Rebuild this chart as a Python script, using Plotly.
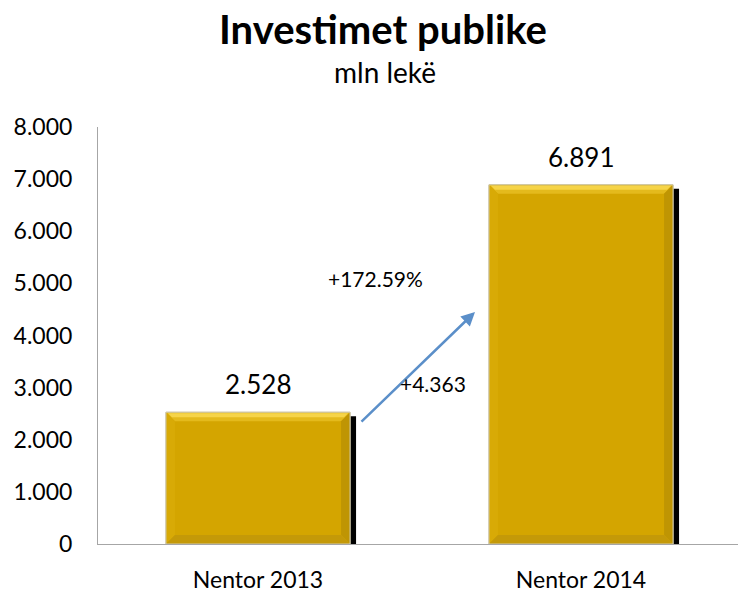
import plotly.graph_objects as go

categories = ["Nentor 2013", "Nentor 2014"]
values = [2528, 6891]
value_labels = ["2.528", "6.891"]
change_pct_label = "+172.59%"
change_abs_label = "+4.363"
y_ticks = [0, 1000, 2000, 3000, 4000, 5000, 6000, 7000, 8000]
y_tick_labels = ["0", "1.000", "2.000", "3.000", "4.000", "5.000", "6.000", "7.000", "8.000"]

FONT = "Lato, 'Open Sans', sans-serif"
W, H = 738, 592
ML, MR, MT, MB = 98, 0, 127, 48
PW, PH = W - ML - MR, H - MT - MB
YMAX = 8000
UNIT = 323.0                      # px per category
X0 = -(258 - ML) / UNIT           # left range so category 0 centres at px 258
XR = (X0, X0 + PW / UNIT)
px_x = 1 / UNIT
px_y = YMAX / PH


def px2x(p):
    return XR[0] + (p - ML) / UNIT


def px2y(p):
    return (H - MB - p) * px_y


def px2py(p):  # paper y from pixel top
    return (H - MB - p) / PH


def px2px(p):
    return (p - ML) / PW


BW = 0.57
xs = list(range(len(categories)))
GOLD = "#D4A500"

fig = go.Figure()

# shadow bars
fig.add_trace(go.Bar(
    x=xs, y=[v - 4 * px_y for v in values], width=BW,
    offset=-BW / 2 + 6 * px_x, marker=dict(color="black", line=dict(width=0)),
    hoverinfo="skip", showlegend=False))

# main bars
fig.add_trace(go.Bar(
    x=xs, y=values, width=BW, offset=-BW / 2,
    marker=dict(color=GOLD, line=dict(color="#C8C0A0", width=1)),
    showlegend=False))

shapes = []
bx = 9 * px_x
by = 9 * px_y
for x, v in zip(xs, values):
    x0, x1 = x - BW / 2, x + BW / 2
    # top bevel (light), two tones for gradient feel
    shapes.append(dict(type="path", xref="x", yref="y", line=dict(width=0), fillcolor="#E4BA1C",
                       path=f"M{x0},{v} L{x1},{v} L{x1-bx},{v-by} L{x0+bx},{v-by} Z"))
    shapes.append(dict(type="path", xref="x", yref="y", line=dict(width=0), fillcolor="#F6D448",
                       path=f"M{x0+2*px_x},{v-1*px_y} L{x1-2*px_x},{v-1*px_y} L{x1-6*px_x},{v-5*px_y} L{x0+6*px_x},{v-5*px_y} Z"))
    # left bevel
    shapes.append(dict(type="path", xref="x", yref="y", line=dict(width=0), fillcolor="#D8AA06",
                       path=f"M{x0},{v} L{x0+bx},{v-by} L{x0+bx},{by} L{x0},0 Z"))
    # right bevel (dark)
    shapes.append(dict(type="path", xref="x", yref="y", line=dict(width=0), fillcolor="#BF9503",
                       path=f"M{x1},{v} L{x1-bx},{v-by} L{x1-bx},{by} L{x1},0 Z"))
    # bottom bevel
    shapes.append(dict(type="path", xref="x", yref="y", line=dict(width=0), fillcolor="#C49908",
                       path=f"M{x0},0 L{x0+bx},{by} L{x1-bx},{by} L{x1},0 Z"))
    # outline
    shapes.append(dict(type="rect", xref="x", yref="y", x0=x0, x1=x1, y0=0, y1=v,
                       line=dict(color="#CFC9B0", width=1)))

annotations = []
for x, v, lab in zip(xs, values, value_labels):
    annotations.append(dict(x=x, y=v, xref="x", yref="y", text=lab, showarrow=False,
                            yanchor="middle", yshift=28,
                            font=dict(family=FONT, size=26, color="black")))

# change arrow
annotations.append(dict(x=px2x(475), y=px2y(312), ax=px2x(360), ay=px2y(423),
                        xref="x", yref="y", axref="x", ayref="y",
                        text="", showarrow=True, arrowhead=2, arrowsize=1.1, arrowwidth=2.5,
                        arrowcolor="#5B8FC9"))
annotations.append(dict(x=px2x(375), y=px2y(278), xref="x", yref="y", text=change_pct_label,
                        showarrow=False, xanchor="center", yanchor="middle",
                        font=dict(family=FONT, size=21, color="black")))
annotations.append(dict(x=px2x(433), y=px2y(383), xref="x", yref="y", text=change_abs_label,
                        showarrow=False, xanchor="center", yanchor="middle",
                        font=dict(family=FONT, size=21, color="black")))

# titles
annotations.append(dict(x=px2px(383), y=px2py(29), xref="paper", yref="paper",
                        text="<b>Investimet publike</b>", showarrow=False,
                        xanchor="center", yanchor="middle",
                        font=dict(family=FONT, size=40, color="black")))
annotations.append(dict(x=px2px(385), y=px2py(72), xref="paper", yref="paper", text="mln lekë",
                        showarrow=False, xanchor="center", yanchor="middle",
                        font=dict(family=FONT, size=28, color="black")))

fig.update_layout(
    width=W, height=H,
    margin=dict(l=ML, r=MR, t=MT, b=MB),
    plot_bgcolor="white", paper_bgcolor="white",
    barmode="overlay",
    shapes=shapes,
    annotations=annotations,
    xaxis=dict(range=list(XR), tickvals=xs, ticktext=categories, showgrid=False, zeroline=False,
               showline=True, linecolor="#A6A6A6", linewidth=1, ticks="", ticklabelstandoff=15,
               tickfont=dict(family=FONT, size=23, color="black"), fixedrange=True),
    yaxis=dict(range=[0, YMAX], tickvals=y_ticks, ticktext=y_tick_labels, showgrid=False,
               zeroline=False, showline=True, linecolor="#A6A6A6", linewidth=1, ticks="",
               ticklabelstandoff=20, tickfont=dict(family=FONT, size=23, color="black"),
               fixedrange=True),
)

fig.write_html("out.html", config={"displayModeBar": False},
               post_script="document.body.style.margin='0';document.body.style.overflow='hidden';")
